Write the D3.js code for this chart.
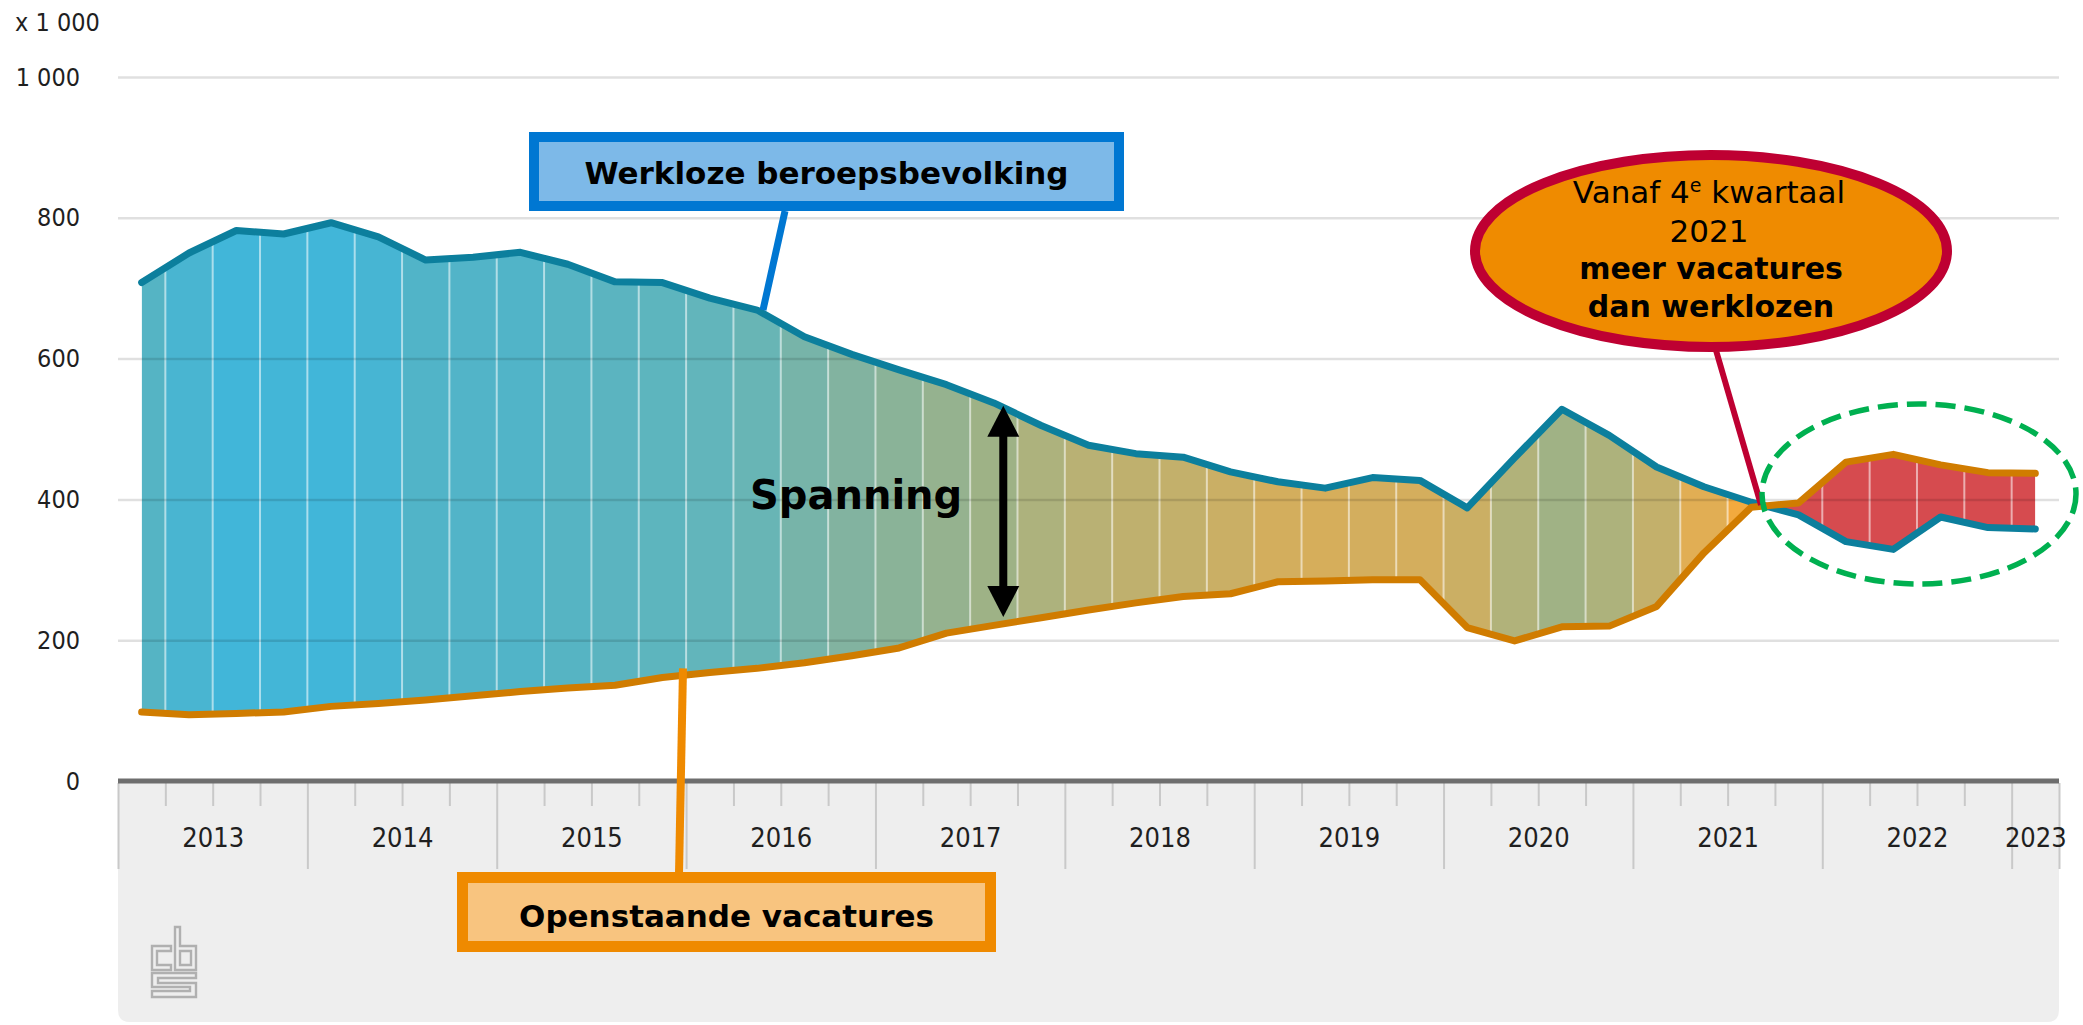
<!DOCTYPE html>
<html lang="nl">
<head>
<meta charset="UTF-8">
<title>Werkloze beroepsbevolking en openstaande vacatures</title>
<script src="https://d3js.org/d3.v7.min.js"></script>
<style>
  body { margin: 0; background: #fff; }
  svg text { font-family: "DejaVu Sans", Verdana, sans-serif; }
  .axis text, .unit { font-family: "DejaVu Sans Condensed", "DejaVu Sans", sans-serif; font-stretch: condensed; }
</style>
</head>
<body>
<div id="chart"></div>
<script>
// kwartalen 2013 K1 t/m 2023 K1
const quarters = [
  "2013-K1", "2013-K2", "2013-K3", "2013-K4",
  "2014-K1", "2014-K2", "2014-K3", "2014-K4",
  "2015-K1", "2015-K2", "2015-K3", "2015-K4",
  "2016-K1", "2016-K2", "2016-K3", "2016-K4",
  "2017-K1", "2017-K2", "2017-K3", "2017-K4",
  "2018-K1", "2018-K2", "2018-K3", "2018-K4",
  "2019-K1", "2019-K2", "2019-K3", "2019-K4",
  "2020-K1", "2020-K2", "2020-K3", "2020-K4",
  "2021-K1", "2021-K2", "2021-K3", "2021-K4",
  "2022-K1", "2022-K2", "2022-K3", "2022-K4",
  "2023-K1"
];
const yearLabels = ["2013", "2014", "2015", "2016", "2017", "2018", "2019", "2020", "2021", "2022", "2023"];

// x 1 000
const werkloos = [708, 750, 782, 777, 793, 773, 740, 744, 751, 734, 709, 708, 686, 669, 631, 606,
  584, 563, 537, 505, 477, 465, 460, 439, 425, 416, 431, 427, 388, 459, 528, 491,
  446, 418, 396, 378, 340, 329, 375, 360, 358];
const vacatures = [98, 94, 96, 98, 106, 110, 115, 121, 127, 132, 136, 147, 154, 160, 168, 178,
  189, 210, 221, 232, 243, 253, 262, 266, 283, 284, 286, 286, 218, 199, 219, 220,
  248, 324, 389, 395, 453, 464, 449, 438, 437];

const yTicks = [0, 200, 400, 600, 800, 1000];

const width = 2083, height = 1025;
const plot = { left: 118, right: 2059, top: 77, bottom: 781 };

const svg = d3.select("#chart").append("svg")
  .attr("width", width)
  .attr("height", height);

const xi = d3.scaleLinear().domain([0, quarters.length]).range([plot.left, plot.right]);
const xc = i => xi(i + 0.5);
const y = d3.scaleLinear().domain([0, 1000]).range([plot.bottom, plot.top]);

const data = quarters.map((q, i) => ({ q, i, w: werkloos[i], v: vacatures[i] }));

// grijs vlak onder de as
const pr = 12;
svg.append("path")
  .attr("d", `M${plot.left},${plot.bottom} H${plot.right} V${height - 3 - pr} Q${plot.right},${height - 3} ${plot.right - pr},${height - 3} H${plot.left + pr} Q${plot.left},${height - 3} ${plot.left},${height - 3 - pr} Z`)
  .attr("fill", "#eeeeee");

// clip-paden om het gebied tussen beide lijnen te splitsen
const defs = svg.append("defs");
function clipArea(id, base, top) {
  defs.append("clipPath").attr("id", id).append("path")
    .attr("d", d3.area().x(d => xc(d.i)).y0(base).y1(top)(data));
}
clipArea("above-v", plot.top - 60, d => y(d.v));
clipArea("below-w", plot.bottom, d => y(d.w));
clipArea("above-w", plot.top - 60, d => y(d.w));
clipArea("below-v", plot.bottom, d => y(d.v));

const gapColor = d3.scaleLinear()
  .domain([0, 100, 150, 260, 310, 420, 530, 610, 690])
  .range(["#f4aa3c", "#e0ae55", "#d1ae5f", "#b1b27a", "#a0b285", "#84b39e", "#62b5bb", "#55b4c4", "#40b6da"])
  .clamp(true);

const bandW = xi(1) - xi(0);

const fillPos = svg.append("g").attr("clip-path", "url(#above-v)")
  .append("g").attr("clip-path", "url(#below-w)");
fillPos.selectAll("rect").data(data).join("rect")
  .attr("x", d => xi(d.i))
  .attr("width", bandW + 0.6)
  .attr("y", plot.top - 60)
  .attr("height", plot.bottom - plot.top + 60)
  .attr("fill", d => gapColor(d.w - d.v));

const fillNeg = svg.append("g").attr("clip-path", "url(#above-w)")
  .append("g").attr("clip-path", "url(#below-v)");
fillNeg.append("rect")
  .attr("x", plot.left).attr("width", plot.right - plot.left)
  .attr("y", plot.top - 60).attr("height", plot.bottom - plot.top + 60)
  .attr("fill", "#d64b4f");

[fillPos, fillNeg].forEach(g => {
  g.selectAll("line.sep").data(d3.range(1, quarters.length)).join("line")
    .attr("class", "sep")
    .attr("x1", k => xi(k)).attr("x2", k => xi(k))
    .attr("y1", plot.top - 60).attr("y2", plot.bottom)
    .attr("stroke", "#ffffff")
    .attr("stroke-opacity", 0.55)
    .attr("stroke-width", 2);
});

// y-as met rasterlijnen
const nl = d3.formatLocale({ decimal: ",", thousands: " ", grouping: [3], currency: ["€", ""] });
const yAxis = svg.append("g")
  .attr("class", "axis")
  .attr("transform", `translate(${plot.left},0)`)
  .call(d3.axisLeft(y).tickValues(yTicks).tickSize(-(plot.right - plot.left)).tickPadding(38).tickFormat(nl.format(",")));
yAxis.select(".domain").remove();
yAxis.selectAll("line")
  .attr("stroke", "#000")
  .attr("stroke-opacity", d => d === 0 ? 0 : 0.12)
  .attr("stroke-width", 2.5);
yAxis.selectAll("text").attr("font-size", 25).attr("fill", "#1f1f1f");

svg.append("text")
  .attr("class", "unit")
  .attr("x", 15).attr("y", 31)
  .attr("font-size", 25).attr("fill", "#1f1f1f")
  .text("x 1 000");

// x-as
const yearStarts = yearLabels.map(yr => quarters.findIndex(q => q.startsWith(yr)));
const yearEnds = yearStarts.slice(1).concat(quarters.length);
const yearCenters = yearStarts.map((s, i) => (s + yearEnds[i]) / 2);

const xAxis = svg.append("g")
  .attr("class", "axis")
  .attr("transform", `translate(0,${plot.bottom + 2})`);

xAxis.append("g")
  .call(d3.axisBottom(xi).tickValues(d3.range(1, quarters.length).filter(k => !yearStarts.includes(k))).tickSize(23).tickFormat(""));
xAxis.append("g")
  .call(d3.axisBottom(xi).tickValues(yearStarts.concat(quarters.length)).tickSize(86).tickFormat(""));
xAxis.append("g")
  .call(d3.axisBottom(xi).tickValues(yearCenters).tickSize(0).tickPadding(45).tickFormat((d, i) => yearLabels[i]));
xAxis.selectAll(".domain").remove();
xAxis.selectAll("line").attr("stroke", "#c9c9c9").attr("stroke-width", 2);
xAxis.selectAll("text").attr("font-size", 27).attr("fill", "#1f1f1f");

svg.append("line")
  .attr("x1", plot.left).attr("x2", plot.right)
  .attr("y1", plot.bottom).attr("y2", plot.bottom)
  .attr("stroke", "#6e6e6e").attr("stroke-width", 5);

// lijnen
svg.append("path").datum(data)
  .attr("d", d3.line().x(d => xc(d.i)).y(d => y(d.w)))
  .attr("fill", "none").attr("stroke", "#0c7f9d").attr("stroke-width", 7)
  .attr("stroke-linejoin", "round").attr("stroke-linecap", "round");
svg.append("path").datum(data)
  .attr("d", d3.line().x(d => xc(d.i)).y(d => y(d.v)))
  .attr("fill", "none").attr("stroke", "#d07c00").attr("stroke-width", 7)
  .attr("stroke-linejoin", "round").attr("stroke-linecap", "round");

// annotaties
const ann = svg.append("g");

// werkloze beroepsbevolking
ann.append("line").attr("x1", 785).attr("y1", 211).attr("x2", 763).attr("y2", y(669))
  .attr("stroke", "#0077d2").attr("stroke-width", 7);
ann.append("rect").attr("x", 534).attr("y", 137).attr("width", 585).attr("height", 69)
  .attr("fill", "#7db9e8").attr("stroke", "#0077d2").attr("stroke-width", 10);
ann.append("text").attr("x", 826.5).attr("y", 184).attr("text-anchor", "middle")
  .attr("font-size", 31).attr("font-weight", "bold").attr("fill", "#000")
  .text("Werkloze beroepsbevolking");

// openstaande vacatures
ann.append("line").attr("x1", 679).attr("y1", 874).attr("x2", 683).attr("y2", y(160))
  .attr("stroke", "#ef8a00").attr("stroke-width", 8);
ann.append("rect").attr("x", 462.5).attr("y", 877.5).attr("width", 528).attr("height", 69)
  .attr("fill", "#f8c47f").attr("stroke", "#ef8a00").attr("stroke-width", 11);
ann.append("text").attr("x", 726.5).attr("y", 927).attr("text-anchor", "middle")
  .attr("font-size", 31).attr("font-weight", "bold").attr("fill", "#000")
  .text("Openstaande vacatures");

// spanning
const ax = xi(18.7);
const yTop = y(533), yBot = y(233);
ann.append("line").attr("x1", ax).attr("x2", ax).attr("y1", yTop + 20).attr("y2", yBot - 20)
  .attr("stroke", "#000").attr("stroke-width", 8);
ann.append("path").attr("d", `M${ax},${yTop} L${ax + 16},${yTop + 31} L${ax - 16},${yTop + 31} Z`).attr("fill", "#000");
ann.append("path").attr("d", `M${ax},${yBot} L${ax + 16},${yBot - 31} L${ax - 16},${yBot - 31} Z`).attr("fill", "#000");
ann.append("text").attr("x", 750).attr("y", 509)
  .attr("font-size", 40).attr("font-weight", "bold").attr("fill", "#000")
  .text("Spanning");

// ballon
ann.append("line").attr("x1", 1713).attr("y1", 340).attr("x2", 1761).attr("y2", 505)
  .attr("stroke", "#be0032").attr("stroke-width", 6);
ann.append("ellipse").attr("cx", 1711).attr("cy", 251).attr("rx", 236).attr("ry", 96)
  .attr("fill", "#ef8b00").attr("stroke", "#be0032").attr("stroke-width", 10);
const t1 = ann.append("text").attr("x", 1709).attr("y", 203).attr("text-anchor", "middle")
  .attr("font-size", 31).attr("fill", "#000");
t1.append("tspan").text("Vanaf 4");
t1.append("tspan").attr("dy", -11).attr("font-size", 19).text("e");
t1.append("tspan").attr("dy", 11).text(" kwartaal");
ann.append("text").attr("x", 1709).attr("y", 242).attr("text-anchor", "middle")
  .attr("font-size", 31).attr("fill", "#000").text("2021");
ann.append("text").attr("x", 1711).attr("y", 279).attr("text-anchor", "middle")
  .attr("font-size", 30).attr("font-weight", "bold").attr("fill", "#000").text("meer vacatures");
ann.append("text").attr("x", 1711).attr("y", 317).attr("text-anchor", "middle")
  .attr("font-size", 30).attr("font-weight", "bold").attr("fill", "#000").text("dan werklozen");

// groene stippel-ellips
ann.append("ellipse").attr("cx", 1919).attr("cy", 494).attr("rx", 157).attr("ry", 90)
  .attr("fill", "none").attr("stroke", "#00b050").attr("stroke-width", 5.5)
  .attr("stroke-dasharray", "20 9");

// cbs-logo
const logo = svg.append("g").attr("fill", "none").attr("stroke", "#b0b0b0").attr("stroke-width", 2.4);
logo.append("path").attr("d", "M171,946 H152 V970 H171 V965 H157 V951 H171 Z");
logo.append("path").attr("d", "M175,927 V970 H196 V946 H180 V927 Z M180,951 H191 V965 H180 Z");
logo.append("path").attr("d", "M196,973 H152 V987 H190 V991 H152 V997 H196 V983 H158 V978 H196 Z");
</script>
</body>
</html>
